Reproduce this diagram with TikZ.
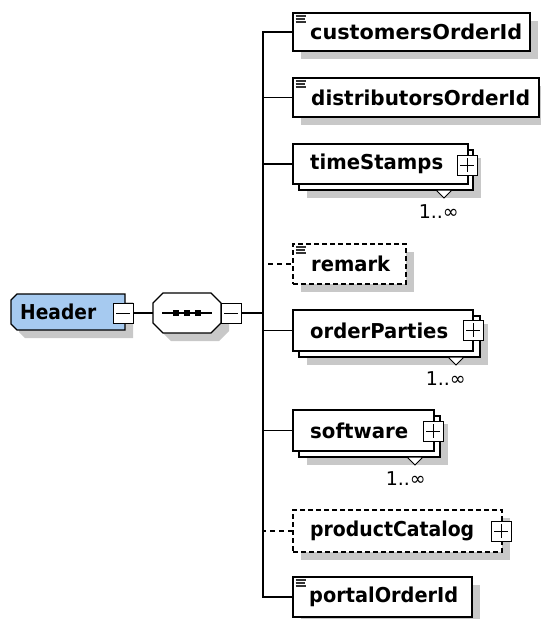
\documentclass[tikz,border=0pt]{standalone}
\usepackage{fontspec}
\usepackage{graphicx}
\setmainfont{DejaVu Sans}
\usetikzlibrary{calc}
\pgfdeclarelayer{bg}
\pgfdeclarelayer{mid}
\pgfsetlayers{bg,mid,main}
\definecolor{shad}{RGB}{200,200,200}
\definecolor{hdrblue}{RGB}{166,202,240}
\tikzset{
  box/.style={draw=black, line width=1.2pt, fill=white, inner sep=0pt, outer sep=0pt, anchor=north west},
  optbox/.style={box, dash pattern=on 5pt off 3pt},
  area/.style={inner sep=0pt, outer sep=0pt, anchor=north west},
  lbl/.style={font=\fontsize{20.5}{24}\selectfont\bfseries, anchor=west, inner sep=0pt},
  pm/.style={draw=black, line width=1pt, fill=white, minimum size=20pt, inner sep=0pt, outer sep=0pt, anchor=north west},
  conn/.style={line width=1.2pt},
  optconn/.style={line width=1.2pt, dash pattern=on 5pt off 4pt},
  mult/.style={font=\fontsize{19}{22}\selectfont, inner sep=0pt, anchor=north east},
  sign/.style={line width=1pt},
  icon/.style={line width=1.1pt, black!80},
  tri/.style={draw=black, line width=1pt, fill=white},
}
\newcommand\lab[2]{\resizebox{#1pt}{\height}{#2}}
\newcommand\myshadow[1]{\begin{pgfonlayer}{bg}\fill[shad] ($(#1.north west)+(8,8)$) rectangle ($(#1.south east)+(8,8)$);\end{pgfonlayer}}
\newcommand\myminus[1]{\draw[sign] ($(#1.center)+(-7,0)$) -- ($(#1.center)+(7,0)$);}
\newcommand\myplus[1]{\myminus{#1}\draw[sign] ($(#1.center)+(0,-7)$) -- ($(#1.center)+(0,7)$);}
\newcommand\myicon[1]{\foreach \k/\l in {3/10,6/9,9/10}{\draw[icon] ($(#1.north west)+(2.5,\k)$) -- ++(\l,0);}}
\newcommand\mytri[2]{\draw[tri] ($(#1.south west)+(#2-8,0)$) -- ++(16,0) -- ++(-8,8) -- cycle;}
\begin{document}
\begin{tikzpicture}[x=1pt,y=-1pt]
\useasboundingbox (0,0) rectangle (541,619);

% ---------- Header ----------
\node[area, minimum width=114pt, minimum height=36pt] (hdr) at (11,294) {};
\begin{pgfonlayer}{bg}
\fill[shad] ($(hdr.north west)+(14,8)$) -- ($(hdr.north east)+(8,8)$) -- ($(hdr.south east)+(8,8)$) -- ($(hdr.south west)+(14,8)$) -- ($(hdr.south west)+(8,2)$) -- ($(hdr.north west)+(8,14)$) -- cycle;
\end{pgfonlayer}
\draw[line width=1.4pt, fill=hdrblue] ($(hdr.north west)+(6,0)$) -- (hdr.north east) -- (hdr.south east) -- ($(hdr.south west)+(6,0)$) -- ($(hdr.south west)+(0,-6)$) -- ($(hdr.north west)+(0,6)$) -- cycle;
\node[lbl] (hdrt) at (20,312) {\lab{76}{Header}};
\node[pm] (hdrm) at (113,303) {};
\myminus{hdrm}

% ---------- sequence ----------
\node[area, minimum width=68pt, minimum height=40pt] (seq) at (153,293) {};
\begin{pgfonlayer}{bg}
\fill[shad] ($(seq.north west)+(18,8)$) -- ($(seq.north east)+(-2,8)$) -- ($(seq.north east)+(8,18)$) -- ($(seq.south east)+(8,-2)$) -- ($(seq.south east)+(-2,8)$) -- ($(seq.south west)+(18,8)$) -- ($(seq.south west)+(8,-2)$) -- ($(seq.north west)+(8,18)$) -- cycle;
\end{pgfonlayer}
\draw[line width=1.2pt, fill=white] ($(seq.north west)+(10,0)$) -- ($(seq.north east)+(-10,0)$) -- ($(seq.north east)+(0,10)$) -- ($(seq.south east)+(0,-10)$) -- ($(seq.south east)+(-10,0)$) -- ($(seq.south west)+(10,0)$) -- ($(seq.south west)+(0,-10)$) -- ($(seq.north west)+(0,10)$) -- cycle;
\draw[line width=1.2pt] ($(seq.west)+(9,0)$) -- ($(seq.east)+(-9,0)$);
\foreach \dx in {-11,0,11}{\fill ($(seq.center)+(\dx-3,-3)$) rectangle ++(6,6);}
\node[pm] (seqm) at (221,303) {};
\myminus{seqm}
\coordinate (bus) at (263,313);

% ---------- children ----------
% customersOrderId
\node[box, minimum width=237pt, minimum height=38pt] (cust) at (293,13) {};
\myshadow{cust}\myicon{cust}
\node[lbl] (custt) at (310,32) {\lab{212}{customersOrderId}};

% distributorsOrderId
\node[box, minimum width=246pt, minimum height=39pt] (dist) at (293,78) {};
\myshadow{dist}\myicon{dist}
\node[lbl] (distt) at (311,97.5) {\lab{219}{distributorsOrderId}};

% timeStamps
\node[box, minimum width=174pt, minimum height=40pt] (tsb) at (299,150) {};
\myshadow{tsb}
\mytri{tsb}{145}
\node[box, minimum width=175pt, minimum height=40pt] (ts) at (293,144) {};
\node[lbl] (tst) at (310,164) {\lab{133}{timeStamps}};
\node[pm] (tsp) at (457,155) {};
\myplus{tsp}
\node[mult] (tsm) at (459,204) {1..∞};

% remark
\node[optbox, minimum width=113pt, minimum height=40pt] (rem) at (293,244) {};
\myshadow{rem}\myicon{rem}
\node[lbl] (remt) at (311,264) {\lab{79}{remark}};

% orderParties
\node[box, minimum width=181pt, minimum height=41pt] (opb) at (299,316) {};
\myshadow{opb}
\mytri{opb}{157}
\node[box, minimum width=180pt, minimum height=41pt] (op) at (293,310) {};
\node[lbl] (opt) at (310,330.5) {\lab{138}{orderParties}};
\node[pm] (opp) at (463,320) {};
\myplus{opp}
\node[mult] (opm) at (466,371) {1..∞};

% software
\node[box, minimum width=141pt, minimum height=41pt] (swb) at (299,416) {};
\myshadow{swb}
\mytri{swb}{116}
\node[box, minimum width=141pt, minimum height=41pt] (sw) at (293,410) {};
\node[lbl] (swt) at (310,430.5) {\lab{98}{software}};
\node[pm] (swp) at (423,421) {};
\myplus{swp}
\node[mult] (swm) at (426,471) {1..∞};

% productCatalog
\node[optbox, minimum width=209pt, minimum height=42pt] (pc) at (293,510) {};
\myshadow{pc}
\node[lbl] (pct) at (310,531) {\lab{164}{productCatalog}};
\node[pm] (pcp) at (491,521) {};
\myplus{pcp}

% portalOrderId
\node[box, minimum width=179pt, minimum height=40pt] (por) at (293,577) {};
\myshadow{por}\myicon{por}
\node[lbl] (port) at (309,597) {\lab{149}{portalOrderId}};

% ---------- connectors ----------
\begin{pgfonlayer}{mid}
\draw[conn] (hdrm.east) -- (seq.west);
\draw[conn] (seqm.east) -- (bus);
\draw[conn] (bus) |- (cust.west);
\draw[conn] (bus) |- (dist.west);
\draw[conn] (bus) |- (ts.west);
\draw[optconn] (bus) |- (rem.west);
\draw[conn] (bus) |- (op.west);
\draw[conn] (bus) |- (sw.west);
\draw[optconn] (bus) |- (pc.west);
\draw[conn] (bus) |- (por.west);
\end{pgfonlayer}
\end{tikzpicture}
\end{document}
